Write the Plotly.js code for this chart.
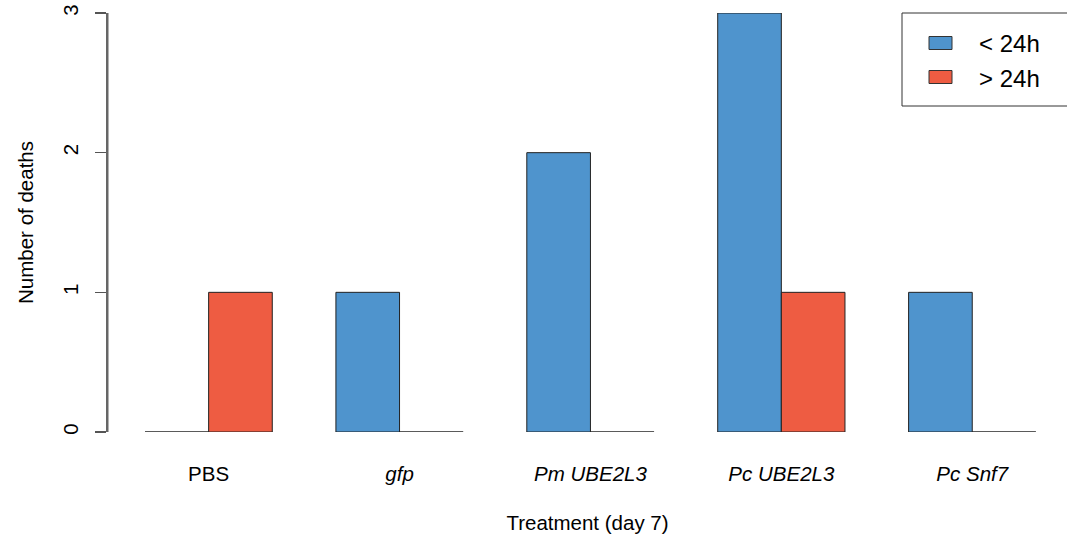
<!DOCTYPE html>
<html>
<head>
<meta charset="utf-8">
<script src="https://cdn.plot.ly/plotly-3.0.1.min.js"></script>
<style>html,body{margin:0;padding:0;background:#fff;}#chart{width:1067px;height:540px;}</style>
</head>
<body>
<div id="chart"></div>
<script>
// ---- data ----
var categories = ['PBS', 'gfp', 'Pm UBE2L3', 'Pc UBE2L3', 'Pc Snf7'];
var tickLabels = ['PBS', '<i>gfp</i>', '<i>Pm UBE2L3</i>', '<i>Pc UBE2L3</i>', '<i>Pc Snf7</i>'];
var seriesNames = ['< 24h', '> 24h'];
var lessThan24h = [0, 1, 2, 3, 1];
var moreThan24h = [1, 0, 0, 1, 0];
var yTicks = [0, 1, 2, 3];

var colors = ['#4F94CD', '#EE5C42'];
var font = 'Liberation Sans, Arial, sans-serif';
var fs = 20.5;
var xRange = [-0.5272, 4.4964];
var yRange = [0, 3];

var traces = [lessThan24h, moreThan24h].map(function (vals, i) {
  return {
    type: 'bar',
    x: categories,
    y: vals,
    name: seriesNames[i],
    marker: { color: colors[i], line: { color: '#222', width: 1 } },
    showlegend: false,
    cliponaxis: false
  };
});

// helpers mapping pixel positions of the legend box to paper coordinates
function px(x) { return (x - 108) / 959; }
function py(y) { return (432 - y) / 419; }

var shapes = [
  // y axis line (R style), drawn just at the left plot edge
  { type: 'line', xref: 'paper', yref: 'paper', x0: px(107.5), x1: px(107.5), y0: 0, y1: 1, layer: 'above', line: { color: '#666666', width: 2 } },
  { type: 'rect', xref: 'paper', yref: 'paper', x0: px(902), x1: px(1080), y0: py(106), y1: py(13), line: { color: '#333', width: 1 }, fillcolor: 'rgba(0,0,0,0)' }
];
var annotations = [];
var legendRows = [43, 77];
seriesNames.forEach(function (nm, i) {
  var cy = legendRows[i];
  shapes.push({ type: 'rect', xref: 'paper', yref: 'paper', x0: px(929), x1: px(952), y0: py(cy + 6.5), y1: py(cy - 6.5), line: { color: '#333', width: 1 }, fillcolor: colors[i] });
  annotations.push({ xref: 'paper', yref: 'paper', x: px(977), y: py(cy + 1), xanchor: 'left', yanchor: 'middle', text: nm, showarrow: false, font: { family: font, size: 24, color: '#000' } });
});

var layout = {
  width: 1067, height: 540,
  margin: { l: 108, r: 0, t: 13, b: 108 },
  paper_bgcolor: '#fff', plot_bgcolor: '#fff',
  barmode: 'group', bargap: 1 / 3, bargroupgap: 0,
  showlegend: false,
  font: { family: font, size: fs, color: '#000' },
  xaxis: {
    type: 'category',
    range: xRange,
    tickvals: categories, ticktext: tickLabels,
    showgrid: false, zeroline: false, showline: false, ticks: '',
    ticklabelstandoff: 27,
    tickfont: { family: font, size: fs, color: '#000' },
    title: { text: 'Treatment (day 7)', font: { family: font, size: fs, color: '#000' }, standoff: 32 },
    automargin: false, fixedrange: true
  },
  yaxis: {
    range: yRange,
    tickvals: yTicks, ticktext: yTicks.map(String),
    tickangle: -90,
    showgrid: false, zeroline: false,
    showline: true, linecolor: '#666', linewidth: 2, layer: 'above traces',
    ticks: 'outside', ticklen: 11, tickcolor: '#555', tickwidth: 1.3,
    ticklabelstandoff: 9,
    tickfont: { family: font, size: fs, color: '#000' },
    title: { text: 'Number of deaths', font: { family: font, size: fs, color: '#000' }, standoff: 20 },
    automargin: false, fixedrange: true
  },
  shapes: shapes,
  annotations: annotations
};

Plotly.newPlot('chart', traces, layout, { displayModeBar: false, staticPlot: true });
</script>
</body>
</html>
